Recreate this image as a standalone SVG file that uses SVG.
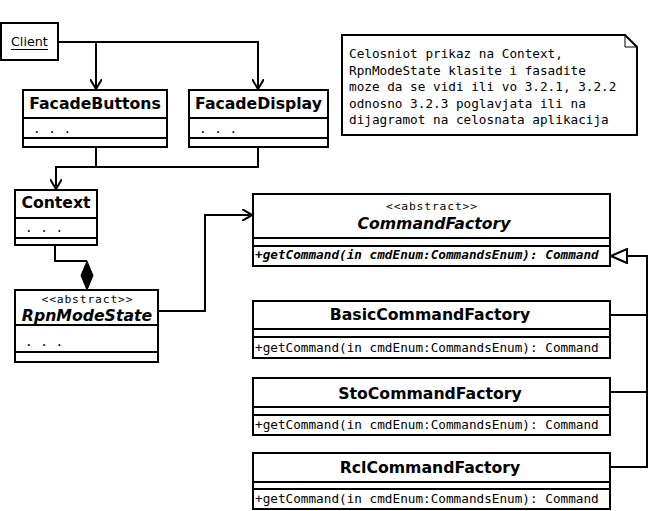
<svg xmlns="http://www.w3.org/2000/svg" width="650" height="511" viewBox="0 0 650 511">
<defs>
<style>
.box{fill:#fff;stroke:#000;stroke-width:2}
.sep{stroke:#000;stroke-width:2}
.conn{fill:none;stroke:#000;stroke-width:2}
.name{font-family:"DejaVu Sans","Liberation Sans",sans-serif;font-weight:bold;font-size:15.7px;text-anchor:middle;fill:#000}
.abs{font-style:italic}
.mono{font-family:"DejaVu Sans Mono","Liberation Mono",monospace;font-size:12.7px;fill:#000}
.ster{font-family:"DejaVu Sans Mono","Liberation Mono",monospace;font-size:11.3px;fill:#000;text-anchor:middle}
.plain{font-family:"DejaVu Sans","Liberation Sans",sans-serif;font-size:12.7px;fill:#000}
</style>
<marker id="open" viewBox="0 0 10 12" refX="10" refY="6" markerWidth="10" markerHeight="12" markerUnits="userSpaceOnUse" orient="auto">
<path d="M0,0 L10,6 L0,12" fill="none" stroke="#000" stroke-width="2"/>
</marker>
<marker id="tri" viewBox="0 0 18 16" refX="17" refY="8" markerWidth="18" markerHeight="16" markerUnits="userSpaceOnUse" orient="auto">
<path d="M1,1 L17,8 L1,15 Z" fill="#fff" stroke="#000" stroke-width="2"/>
</marker>
</defs>
<rect width="650" height="511" fill="#fff"/>

<g id="connectors">
<path class="conn" d="M58,42 H258 V89" marker-end="url(#open)"/>
<path class="conn" d="M96,42 V89" marker-end="url(#open)"/>
<path class="conn" d="M96,147 V167 H56 V189" marker-end="url(#open)"/>
<path class="conn" d="M258,147 V167 H96"/>
<path class="conn" d="M55,245 V261 H87"/>
<polygon points="87,261 93,275.5 87,290 81,275.5" fill="#000" stroke="#000" stroke-width="1"/>
<path class="conn" d="M158,311 H205 V215 H252" marker-end="url(#open)"/>
<path class="conn" d="M610,467 H647 V256 H611" marker-end="url(#tri)"/>
<path class="conn" d="M610,315 H647"/>
<path class="conn" d="M610,392 H647"/>
</g>

<g id="Client">
<rect class="box" x="1" y="23" width="57" height="37"/>
<text class="plain" x="11" y="46">Client</text>
<line x1="11" y1="49.5" x2="48" y2="49.5" stroke="#000" stroke-width="1"/>
</g>

<g id="FacadeButtons">
<rect class="box" x="23" y="90" width="144" height="57"/>
<line class="sep" x1="23" y1="118" x2="167" y2="118"/>
<line class="sep" x1="23" y1="138" x2="167" y2="138"/>
<text class="name" x="95" y="109">FacadeButtons</text>
<text class="mono" x="33" y="133">. . .</text>
</g>

<g id="FacadeDisplay">
<rect class="box" x="189" y="90" width="139" height="57"/>
<line class="sep" x1="189" y1="118" x2="328" y2="118"/>
<line class="sep" x1="189" y1="138" x2="328" y2="138"/>
<text class="name" x="258.5" y="109">FacadeDisplay</text>
<text class="mono" x="199" y="133">. . .</text>
</g>

<g id="Context">
<rect class="box" x="15" y="190" width="82" height="55"/>
<line class="sep" x1="15" y1="218" x2="97" y2="218"/>
<line class="sep" x1="15" y1="238" x2="97" y2="238"/>
<text class="name" x="56" y="208">Context</text>
<text class="mono" x="25" y="232">. . .</text>
</g>

<g id="RpnModeState">
<rect class="box" x="15" y="290" width="143" height="72"/>
<line class="sep" x1="15" y1="325" x2="158" y2="325"/>
<line class="sep" x1="15" y1="352" x2="158" y2="352"/>
<text class="ster" x="87" y="302.5" textLength="91" lengthAdjust="spacing">&lt;&lt;abstract&gt;&gt;</text>
<text class="name abs" x="87" y="320.5">RpnModeState</text>
<text class="mono" x="25" y="346">. . .</text>
</g>

<g id="CommandFactory">
<rect class="box" x="253" y="194" width="357" height="72"/>
<line class="sep" x1="253" y1="238" x2="610" y2="238"/>
<line class="sep" x1="253" y1="246" x2="610" y2="246"/>
<text class="ster" x="431.5" y="209.5" textLength="91" lengthAdjust="spacing">&lt;&lt;abstract&gt;&gt;</text>
<text class="name abs" x="434" y="228.5">CommandFactory</text>
<text class="mono" x="255" y="259" font-weight="bold" font-style="italic">+getCommand(in cmdEnum:CommandsEnum): Command</text>
</g>

<g id="BasicCommandFactory">
<rect class="box" x="253" y="301" width="357" height="57"/>
<line class="sep" x1="253" y1="329" x2="610" y2="329"/>
<line class="sep" x1="253" y1="337" x2="610" y2="337"/>
<text class="name" x="430" y="320">BasicCommandFactory</text>
<text class="mono" x="255" y="352">+getCommand(in cmdEnum:CommandsEnum): Command</text>
</g>

<g id="StoCommandFactory">
<rect class="box" x="253" y="378" width="357" height="57"/>
<line class="sep" x1="253" y1="407" x2="610" y2="407"/>
<line class="sep" x1="253" y1="415" x2="610" y2="415"/>
<text class="name" x="430" y="399">StoCommandFactory</text>
<text class="mono" x="255" y="429">+getCommand(in cmdEnum:CommandsEnum): Command</text>
</g>

<g id="RclCommandFactory">
<rect class="box" x="253" y="453" width="357" height="56"/>
<line class="sep" x1="253" y1="482" x2="610" y2="482"/>
<line class="sep" x1="253" y1="489" x2="610" y2="489"/>
<text class="name" x="430" y="473">RclCommandFactory</text>
<text class="mono" x="255" y="503">+getCommand(in cmdEnum:CommandsEnum): Command</text>
</g>

<g id="Note">
<polygon points="342,35 625,35 637,47 637,135 342,135" fill="#fff" stroke="#000" stroke-width="2"/>
<polyline points="625,35 625,47 637,47" fill="none" stroke="#000" stroke-width="1"/>
<text class="mono" x="349" y="58">Celosniot prikaz na Context,</text>
<text class="mono" x="349" y="74.5">RpnModeState klasite i fasadite</text>
<text class="mono" x="349" y="91">moze da se vidi ili vo 3.2.1, 3.2.2</text>
<text class="mono" x="349" y="107.5">odnosno 3.2.3 poglavjata ili na</text>
<text class="mono" x="349" y="124">dijagramot na celosnata aplikacija</text>
</g>
</svg>
